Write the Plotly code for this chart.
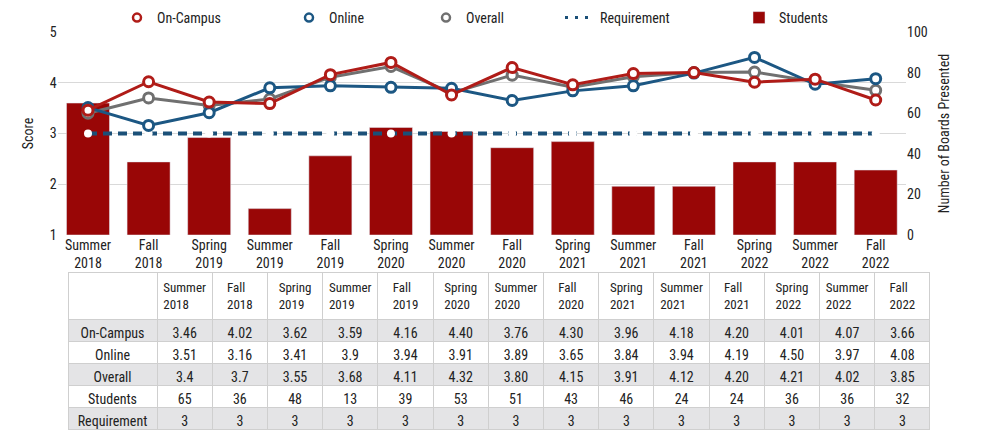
import plotly.graph_objects as go

categories = ["Summer 2018", "Fall 2018", "Spring 2019", "Summer 2019", "Fall 2019",
              "Spring 2020", "Summer 2020", "Fall 2020", "Spring 2021", "Summer 2021",
              "Fall 2021", "Spring 2022", "Summer 2022", "Fall 2022"]
on_campus = ["3.46", "4.02", "3.62", "3.59", "4.16", "4.40", "3.76", "4.30", "3.96", "4.18", "4.20", "4.01", "4.07", "3.66"]
online = ["3.51", "3.16", "3.41", "3.9", "3.94", "3.91", "3.89", "3.65", "3.84", "3.94", "4.19", "4.50", "3.97", "4.08"]
overall = ["3.4", "3.7", "3.55", "3.68", "4.11", "4.32", "3.80", "4.15", "3.91", "4.12", "4.20", "4.21", "4.02", "3.85"]
students = [65, 36, 48, 13, 39, 53, 51, 43, 46, 24, 24, 36, 36, 32]
requirement = [3] * 14

row_labels = ["On-Campus", "Online", "Overall", "Students", "Requirement"]
score_ticks = [1, 2, 3, 4, 5]
board_ticks = [0, 20, 40, 60, 80, 100]

FONT = "Liberation Sans Narrow, Arial Narrow, Roboto Condensed, Roboto, sans-serif"
RED_BAR = "#990606"
RED = "#b01c18"
BLUE = "#1c5783"
GREY = "#707070"
REQ = "#1b5078"

# the page adds an 8px body margin; figure is sized to fit the 982x430 window
W, H, OFF = 974, 422, 8


def px(x_abs):
    return (x_abs - OFF) / W


def py(y_abs):
    return 1 - (y_abs - OFF) / H


cat_labels = [c.replace(" ", "<br>") for c in categories]

fig = go.Figure()

# Bars on primary (right side) axis so lines draw on top
fig.add_trace(go.Bar(x=cat_labels, y=students, name="Students", marker_color=RED_BAR,
                     yaxis="y", showlegend=True, legend="legend5"))


def num(v):
    return [float(s) for s in v]


fig.add_trace(go.Scatter(x=cat_labels, y=requirement, yaxis="y2", mode="lines+markers",
                         line=dict(color=REQ, width=4, dash="9px,6px"),
                         marker=dict(color="white", size=8, line=dict(width=0)),
                         showlegend=False, hoverinfo="skip"))
for vals, col in [(overall, GREY), (online, BLUE), (on_campus, RED)]:
    fig.add_trace(go.Scatter(x=cat_labels, y=num(vals), yaxis="y2", mode="lines+markers",
                             line=dict(color=col, width=3),
                             marker=dict(symbol="circle", size=10, color="white",
                                         line=dict(color=col, width=3)),
                             showlegend=False))

# legend-only entries
legend_items = [("On-Campus", RED, "legend"), ("Online", BLUE, "legend2"), ("Overall", GREY, "legend3")]
for name, col, lg in legend_items:
    fig.add_trace(go.Scatter(x=[cat_labels[0]], y=[None], yaxis="y2", mode="markers", name=name,
                             marker=dict(symbol="circle-open", size=8, color=col, line=dict(width=2.5)),
                             legend=lg))
fig.add_trace(go.Scatter(x=[cat_labels[0]], y=[None], yaxis="y2", mode="lines", name="Requirement",
                         line=dict(color=REQ, width=3, dash="3px,7px"), legend="legend4"))

# table
hdr = [""] + cat_labels
cols = [row_labels]
for i in range(len(categories)):
    cols.append([on_campus[i], online[i], overall[i], str(students[i]), str(requirement[i])])
row_fill = ["#e4e4e6", "white", "#e4e4e6", "white", "#e4e4e6"]
fig.add_trace(go.Table(
    domain=dict(x=[px(68), px(930)], y=[0, py(272)]),
    columnwidth=[89] + [55.2] * 14,
    header=dict(values=hdr, fill_color="white", line=dict(color="#cfcfcf", width=1),
                font=dict(family=FONT, size=13, color="#222"), align="center", height=31),
    cells=dict(values=cols, fill_color=[row_fill] * 15, line=dict(color="#cfcfcf", width=1),
               font=dict(family=FONT, size=14, color="#222"), align="center", height=22),
))

leg_common = dict(orientation="h", yanchor="middle", y=py(18), xanchor="left",
                  font=dict(family=FONT, size=14, color="#222"), bgcolor="rgba(0,0,0,0)")
fig.update_layout(
    width=W, height=H,
    margin=dict(l=0, r=0, t=0, b=0, autoexpand=False),
    paper_bgcolor="white", plot_bgcolor="white",
    font=dict(family=FONT, size=14, color="#222"),
    bargap=0.29,
    xaxis=dict(domain=[px(57.7), px(906)], range=[-0.5, 13.5], showgrid=False, showline=False,
               ticks="", tickfont=dict(size=14, color="#222"), automargin=False),
    yaxis=dict(domain=[py(235), py(32)], side="right", range=[0, 100],
               tickvals=board_ticks, showgrid=False, zeroline=False, automargin=False,
               tickfont=dict(size=14, color="#222"),
               title=dict(text="Number of Boards Presented", font=dict(size=14), standoff=12)),
    yaxis2=dict(overlaying="y", side="left", range=[1, 5], tickvals=score_ticks,
                showgrid=True, gridcolor="#d9d9d9", gridwidth=1, zeroline=False, automargin=False,
                tickfont=dict(size=14, color="#222"),
                title=dict(text="Score", font=dict(size=14), standoff=12)),
    legend=dict(x=px(117), **leg_common),
    legend2=dict(x=px(289), **leg_common),
    legend3=dict(x=px(426), **leg_common),
    legend4=dict(x=px(560), **leg_common),
    legend5=dict(x=px(739), **leg_common),
)

fig.write_html("out.html")
